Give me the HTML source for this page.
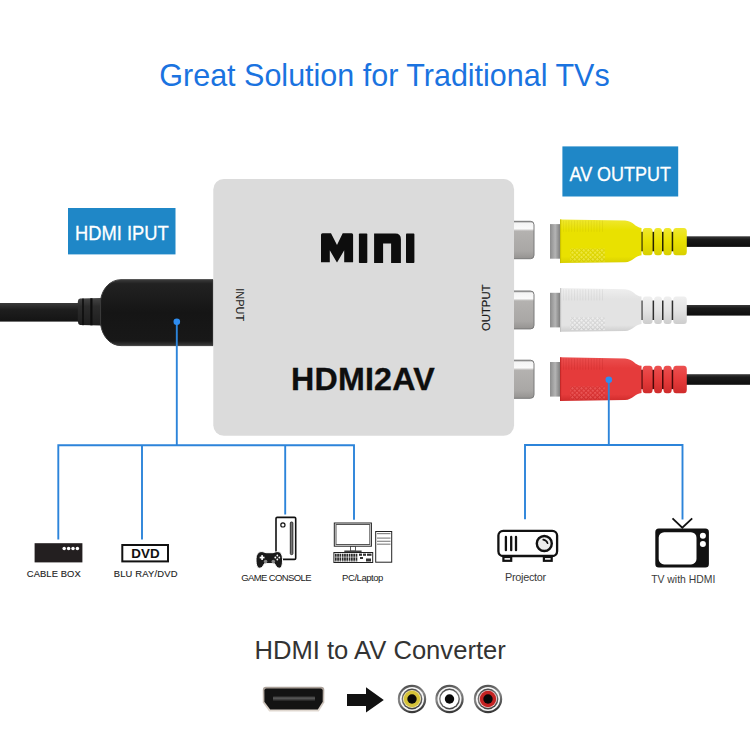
<!DOCTYPE html>
<html><head><meta charset="utf-8">
<style>
html,body{margin:0;padding:0;background:#fff;width:750px;height:750px;overflow:hidden}
svg{display:block}
text{font-family:"Liberation Sans",sans-serif}
</style></head>
<body>
<svg width="750" height="750" viewBox="0 0 750 750">
<defs>
  <linearGradient id="plugBody" x1="0" y1="0" x2="0" y2="1">
    <stop offset="0" stop-color="#3a3a3a"/>
    <stop offset="0.06" stop-color="#222"/>
    <stop offset="0.5" stop-color="#151515"/>
    <stop offset="0.93" stop-color="#181818"/>
    <stop offset="1" stop-color="#3a3a3a"/>
  </linearGradient>
  <linearGradient id="neck" x1="0" y1="0" x2="0" y2="1">
    <stop offset="0" stop-color="#444"/>
    <stop offset="0.3" stop-color="#2c2c2c"/>
    <stop offset="1" stop-color="#1e1e1e"/>
  </linearGradient>
  <linearGradient id="cable" x1="0" y1="0" x2="0" y2="1">
    <stop offset="0" stop-color="#3a3a3a"/>
    <stop offset="0.35" stop-color="#1e1e1e"/>
    <stop offset="1" stop-color="#141414"/>
  </linearGradient>
  <linearGradient id="jack" x1="0" y1="0" x2="0" y2="1">
    <stop offset="0" stop-color="#8a8a8a"/>
    <stop offset="0.05" stop-color="#f4f4f4"/>
    <stop offset="0.2" stop-color="#fafafa"/>
    <stop offset="0.26" stop-color="#b4b2b0"/>
    <stop offset="0.8" stop-color="#a9a7a5"/>
    <stop offset="1" stop-color="#959391"/>
  </linearGradient>
  <linearGradient id="ring" x1="0" y1="0" x2="1" y2="0">
    <stop offset="0" stop-color="#8c8c8c"/>
    <stop offset="0.5" stop-color="#b4b4b4"/>
    <stop offset="1" stop-color="#7a7a7a"/>
  </linearGradient>
  <pattern id="keys" width="2.3" height="4" patternUnits="userSpaceOnUse" x="335" y="553.6">
    <rect width="2.3" height="4" fill="#fff"/><rect x="0" y="0" width="1.7" height="3.4" fill="#2a2a2a"/>
  </pattern>
  <linearGradient id="hdmiBorder" x1="0" y1="0" x2="0" y2="1">
    <stop offset="0" stop-color="#a89e96"/><stop offset="0.5" stop-color="#c4bab2"/><stop offset="1" stop-color="#e2dad2"/>
  </linearGradient>
  <linearGradient id="rcaOuter" x1="0" y1="0" x2="0.3" y2="1">
    <stop offset="0" stop-color="#3e3e3e"/><stop offset="0.5" stop-color="#8a8a8a"/><stop offset="1" stop-color="#3a3a3a"/>
  </linearGradient>
  <linearGradient id="rcaInner" x1="0" y1="0" x2="0.3" y2="1">
    <stop offset="0" stop-color="#3a3a3a"/><stop offset="0.5" stop-color="#777"/><stop offset="1" stop-color="#444"/>
  </linearGradient>
</defs>

<!-- Title -->
<text x="159.3" y="86.3" font-size="30.5" fill="#1a73e0">Great Solution for Traditional TVs</text>

<!-- HDMI IPUT label -->
<rect x="68" y="208" width="107.5" height="46.4" fill="#1f87c7"/>
<text x="75" y="240" font-size="20.6" fill="#fff" stroke="#fff" stroke-width="0.3" transform="translate(75 0) scale(0.89 1) translate(-75 0)">HDMI IPUT</text>

<!-- AV OUTPUT label -->
<rect x="562.4" y="146.4" width="115.8" height="50.1" fill="#1f87c7"/>
<text x="569.5" y="181.2" font-size="20.3" fill="#fff" stroke="#fff" stroke-width="0.3" transform="translate(569.5 0) scale(0.885 1) translate(-569.5 0)">AV OUTPUT</text>

<!-- left HDMI cable -->
<rect x="0" y="303" width="82" height="18.6" fill="url(#cable)"/>
<!-- neck rings -->
<path d="M80,298.6 L101,298.1 L101,325.4 L80,325 Q77.8,324 77.8,321 L77.8,302 Q77.8,299 80,298.6 Z" fill="url(#neck)"/>
<rect x="82.2" y="298.6" width="1.6" height="26.6" fill="#0e0e0e"/>
<rect x="90.3" y="298.3" width="2.2" height="27" fill="#0e0e0e"/>
<!-- plug body -->
<path d="M213,279.7 L121,279.7 C110,279.7 102,289 100.6,300 L100.6,324 C102,336 110,345.6 121,345.6 L213,345.6 Z" fill="url(#plugBody)" stroke="#3c3c3c" stroke-width="1"/>

<!-- device -->
<rect x="213.3" y="179" width="300.8" height="256.8" rx="10.5" fill="#dbdbdb"/>

<!-- device jacks -->
<g id="jacks">
  <path d="M514,221.3 L530.5,221.3 Q534,221.3 534,224.8 L534,255.2 Q534,258.7 530.5,258.7 L514,258.7" fill="url(#jack)" stroke="#7a7a7a" stroke-width="1"/>
  <path d="M514,291 L530.5,291 Q534,291 534,294.5 L534,325.4 Q534,328.9 530.5,328.9 L514,328.9" fill="url(#jack)" stroke="#7a7a7a" stroke-width="1"/>
  <path d="M514,360.2 L530.5,360.2 Q534,360.2 534,363.7 L534,394.8 Q534,398.3 530.5,398.3 L514,398.3" fill="url(#jack)" stroke="#7a7a7a" stroke-width="1"/>
</g>

<!-- MINI logo -->
<g fill="#0d0d0d">
  <path d="M321,262.3 L321,234.8 Q321,233.3 322.5,233.3 L331,233.3 L337,245 L342.7,233.3 L351.6,233.3 Q353.1,233.3 353.1,234.8 L353.1,262.3 L344.2,262.3 L344.2,250.3 L337.2,262.3 L336.8,262.3 L329.8,250.3 L329.8,262.3 Z"/>
  <rect x="358.9" y="233.6" width="8.4" height="29.4" rx="0.8"/>
  <path d="M374.1,263 L374.1,233.6 L395.3,233.6 Q400.9,233.6 400.9,239.2 L400.9,263 L391.1,263 L391.1,243.4 L383.1,243.4 L383.1,263 Z"/>
  <rect x="406" y="233.6" width="8.4" height="29.4" rx="0.8"/>
</g>

<!-- HDMI2AV -->
<text x="291" y="390.2" font-size="32.2" letter-spacing="0.2" font-weight="700" fill="#0e0e0e" stroke="#0e0e0e" stroke-width="0.35">HDMI2AV</text>

<!-- INPUT / OUTPUT vertical -->
<text font-size="11" fill="#1a1a1a" stroke="#1a1a1a" stroke-width="0.05" transform="translate(235.7 288.2) rotate(90)">INPUT</text>
<text font-size="11.3" fill="#1a1a1a" stroke="#1a1a1a" stroke-width="0.2" transform="translate(489.6 331) rotate(-90)">OUTPUT</text>

<!-- RCA plugs -->
<g id="plugs">
<defs>
<linearGradient id="bodyY" x1="0" y1="0" x2="0" y2="1">
<stop offset="0" stop-color="#efe830"/><stop offset="0.25" stop-color="#e9e100"/><stop offset="0.85" stop-color="#e9e100"/><stop offset="1" stop-color="#d8cf00"/></linearGradient>
<linearGradient id="ribY" x1="0" y1="0" x2="0" y2="1">
<stop offset="0" stop-color="#efe830"/><stop offset="0.5" stop-color="#e9e100"/><stop offset="1" stop-color="#d8cf00"/></linearGradient>
<linearGradient id="edgeY" x1="0" y1="0" x2="1" y2="0"><stop offset="0" stop-color="#b9ae00"/><stop offset="1" stop-color="#e9e100" stop-opacity="0"/></linearGradient>
<pattern id="knurlY" width="3.2" height="3.2" patternUnits="userSpaceOnUse" patternTransform="rotate(45)">
<rect width="3.2" height="3.2" fill="#b9ae00" opacity="0.25"/><rect width="2.1" height="2.1" fill="#fbf56a" opacity="0.6"/></pattern>
<pattern id="ridgeY" width="2.8" height="12" patternUnits="userSpaceOnUse">
<rect width="1" height="12" fill="#b9ae00" opacity="0.22"/></pattern>
<linearGradient id="bodyW" x1="0" y1="0" x2="0" y2="1">
<stop offset="0" stop-color="#efefef"/><stop offset="0.25" stop-color="#e3e3e3"/><stop offset="0.85" stop-color="#e3e3e3"/><stop offset="1" stop-color="#cdcdcd"/></linearGradient>
<linearGradient id="ribW" x1="0" y1="0" x2="0" y2="1">
<stop offset="0" stop-color="#efefef"/><stop offset="0.5" stop-color="#e3e3e3"/><stop offset="1" stop-color="#cdcdcd"/></linearGradient>
<linearGradient id="edgeW" x1="0" y1="0" x2="1" y2="0"><stop offset="0" stop-color="#b0b0b0"/><stop offset="1" stop-color="#e3e3e3" stop-opacity="0"/></linearGradient>
<pattern id="knurlW" width="3.2" height="3.2" patternUnits="userSpaceOnUse" patternTransform="rotate(45)">
<rect width="3.2" height="3.2" fill="#b0b0b0" opacity="0.25"/><rect width="2.1" height="2.1" fill="#ffffff" opacity="0.6"/></pattern>
<pattern id="ridgeW" width="2.8" height="12" patternUnits="userSpaceOnUse">
<rect width="1" height="12" fill="#b0b0b0" opacity="0.22"/></pattern>
<linearGradient id="bodyR" x1="0" y1="0" x2="0" y2="1">
<stop offset="0" stop-color="#ec5050"/><stop offset="0.25" stop-color="#e53b3b"/><stop offset="0.85" stop-color="#e53b3b"/><stop offset="1" stop-color="#cf2b2b"/></linearGradient>
<linearGradient id="ribR" x1="0" y1="0" x2="0" y2="1">
<stop offset="0" stop-color="#ec5050"/><stop offset="0.5" stop-color="#e53b3b"/><stop offset="1" stop-color="#cf2b2b"/></linearGradient>
<linearGradient id="edgeR" x1="0" y1="0" x2="1" y2="0"><stop offset="0" stop-color="#b01c1c"/><stop offset="1" stop-color="#e53b3b" stop-opacity="0"/></linearGradient>
<pattern id="knurlR" width="3.2" height="3.2" patternUnits="userSpaceOnUse" patternTransform="rotate(45)">
<rect width="3.2" height="3.2" fill="#b01c1c" opacity="0.25"/><rect width="2.1" height="2.1" fill="#f56a6a" opacity="0.6"/></pattern>
<pattern id="ridgeR" width="2.8" height="12" patternUnits="userSpaceOnUse">
<rect width="1" height="12" fill="#b01c1c" opacity="0.22"/></pattern>
<linearGradient id="cableR" x1="0" y1="0" x2="0" y2="1"><stop offset="0" stop-color="#3a3a3a"/><stop offset="0.3" stop-color="#1a1a1a"/><stop offset="1" stop-color="#0e0e0e"/></linearGradient>
</defs>
<rect x="684" y="236.3" width="66" height="10.6" fill="url(#cableR)"/>
<rect x="550" y="224.10000000000002" width="10.5" height="34.6" fill="url(#ring)"/>
<rect x="639" y="231.8" width="47" height="19.5" fill="#262200"/>
<rect x="642.6" y="227.9" width="10.0" height="27.4" rx="3" ry="3.5" fill="url(#ribY)"/>
<rect x="654.1" y="227.9" width="7.899999999999977" height="27.4" rx="3" ry="3.5" fill="url(#ribY)"/>
<rect x="663.5" y="227.9" width="8.200000000000045" height="27.4" rx="3" ry="3.5" fill="url(#ribY)"/>
<rect x="673.2" y="227.9" width="13.599999999999909" height="27.4" rx="3" ry="3.5" fill="url(#ribY)"/>
<path d="M560,219.4 L625,220.60000000000002 C633,220.9 635,227.5 641.5,227.9 L641.5,255.20000000000002 C635,255.60000000000002 633,261.90000000000003 625,262.2 L560,263.1 Z" fill="url(#bodyY)"/>
<rect x="560" y="219.4" width="2.2" height="43.7" fill="url(#edgeY)"/>
<rect x="570.4" y="248.60000000000002" width="34.4" height="12.8" fill="url(#knurlY)"/>
<rect x="563" y="220.60000000000002" width="40" height="11.2" fill="url(#ridgeY)"/>
<rect x="684" y="305" width="66" height="10.6" fill="url(#cableR)"/>
<rect x="550" y="292.8" width="10.5" height="34.6" fill="url(#ring)"/>
<rect x="639" y="300.5" width="47" height="19.5" fill="#2e2e2e"/>
<rect x="642.6" y="296.6" width="10.0" height="27.4" rx="3" ry="3.5" fill="url(#ribW)"/>
<rect x="654.1" y="296.6" width="7.899999999999977" height="27.4" rx="3" ry="3.5" fill="url(#ribW)"/>
<rect x="663.5" y="296.6" width="8.200000000000045" height="27.4" rx="3" ry="3.5" fill="url(#ribW)"/>
<rect x="673.2" y="296.6" width="13.599999999999909" height="27.4" rx="3" ry="3.5" fill="url(#ribW)"/>
<path d="M560,288.1 L625,289.3 C633,289.6 635,296.2 641.5,296.6 L641.5,323.9 C635,324.3 633,330.6 625,330.9 L560,331.8 Z" fill="url(#bodyW)"/>
<rect x="560" y="288.1" width="2.2" height="43.7" fill="url(#edgeW)"/>
<rect x="570.4" y="317.3" width="34.4" height="12.8" fill="url(#knurlW)"/>
<rect x="563" y="289.3" width="40" height="11.2" fill="url(#ridgeW)"/>
<rect x="684" y="374.2" width="66" height="10.6" fill="url(#cableR)"/>
<rect x="550" y="362.0" width="10.5" height="34.6" fill="url(#ring)"/>
<rect x="639" y="369.7" width="47" height="19.5" fill="#4a0808"/>
<rect x="642.6" y="365.8" width="10.0" height="27.4" rx="3" ry="3.5" fill="url(#ribR)"/>
<rect x="654.1" y="365.8" width="7.899999999999977" height="27.4" rx="3" ry="3.5" fill="url(#ribR)"/>
<rect x="663.5" y="365.8" width="8.200000000000045" height="27.4" rx="3" ry="3.5" fill="url(#ribR)"/>
<rect x="673.2" y="365.8" width="13.599999999999909" height="27.4" rx="3" ry="3.5" fill="url(#ribR)"/>
<path d="M560,357.3 L625,358.5 C633,358.8 635,365.4 641.5,365.8 L641.5,393.09999999999997 C635,393.5 633,399.8 625,400.09999999999997 L560,401.0 Z" fill="url(#bodyR)"/>
<rect x="560" y="357.3" width="2.2" height="43.7" fill="url(#edgeR)"/>
<rect x="570.4" y="386.5" width="34.4" height="12.8" fill="url(#knurlR)"/>
<rect x="563" y="358.5" width="40" height="11.2" fill="url(#ridgeR)"/>
</g>
<!-- /plugs -->

<!-- blue tree lines -->
<g stroke="#2c84da" stroke-width="1.9" fill="none">
  <path d="M176.8,322 L176.8,445.2"/>
  <path d="M58.3,539.5 L58.3,445.3 L354,445.3 L354,519.7"/>
  <path d="M142,445.3 L142,539.5"/>
  <path d="M285.2,445.3 L285.2,514.5"/>
  <path d="M608.8,380 L608.8,445.2"/>
  <path d="M525,519.3 L525,445 L682.5,445 L682.5,519.5"/>
</g>
<circle cx="176.8" cy="321.8" r="3.3" fill="#2e8df0"/>
<circle cx="608.8" cy="379.8" r="3.3" fill="#2e8df0"/>

<!-- cable box -->
<rect x="34.6" y="543.2" width="47.8" height="19.2" fill="#231f20"/>
<g fill="#fff"><circle cx="64.2" cy="548.4" r="1.75"/><circle cx="68.6" cy="548.4" r="1.75"/><circle cx="73" cy="548.4" r="1.75"/><circle cx="77.4" cy="548.4" r="1.75"/></g>
<text x="26.8" y="577" font-size="9.4" letter-spacing="0.1" fill="#222" stroke="#222" stroke-width="0.12">CABLE BOX</text>

<!-- DVD -->
<rect x="122.3" y="545" width="45.7" height="16.4" fill="#fff" stroke="#111" stroke-width="2"/>
<text x="145.5" y="558.3" font-size="13.4" font-weight="700" fill="#111" text-anchor="middle">DVD</text>
<text x="113.8" y="576.6" font-size="9.4" letter-spacing="0.18" fill="#222" stroke="#222" stroke-width="0.12">BLU RAY/DVD</text>

<!-- game console -->
<rect x="276" y="517.4" width="19.7" height="42" rx="1.2" fill="#fff" stroke="#111" stroke-width="1.6"/>
<circle cx="282.9" cy="524.9" r="2.1" fill="#fff" stroke="#111" stroke-width="1.2"/>
<rect x="290.3" y="522" width="2.6" height="32.6" rx="1" fill="#777" stroke="#111" stroke-width="0.8"/>
<path d="M261,551.6 C263,551.4 264.5,552.5 266,552.7 L273,552.7 C274.5,552.5 276,551.4 278,551.6 C281.2,552 282.5,555 282.5,560 C282.5,565.5 281.6,568.2 279.2,568.2 C277,568.2 276,565.8 274.5,563.6 L264.5,563.6 C263,565.8 262,568.2 259.8,568.2 C257.4,568.2 256,565.5 256,560 C256,555 257.8,552 261,551.6 Z" fill="#1a1a1a" stroke="#fff" stroke-width="1"/>
<g fill="#fff"><rect x="259.7" y="556.7" width="4.8" height="1.7"/><rect x="261.25" y="555.15" width="1.7" height="4.8"/>
<circle cx="277.3" cy="555.5" r="0.9"/><circle cx="277.3" cy="559.5" r="0.9"/><circle cx="275.3" cy="557.5" r="0.9"/><circle cx="279.3" cy="557.5" r="0.9"/></g>
<circle cx="265.6" cy="561.6" r="1.8" fill="#8a8a8a"/><circle cx="273.3" cy="561.6" r="1.8" fill="#8a8a8a"/>
<text x="241.3" y="580.7" font-size="9.5" letter-spacing="-0.62" fill="#222">GAME CONSOLE</text>

<!-- PC -->
<rect x="334.3" y="523" width="37.1" height="23.2" fill="#fff" stroke="#222" stroke-width="1"/>
<rect x="336" y="524.5" width="33.8" height="20" fill="#fff" stroke="#555" stroke-width="1"/>
<rect x="350.5" y="546.5" width="5" height="4.5" fill="#fff" stroke="#333" stroke-width="0.8"/>
<rect x="344.3" y="550.5" width="17.3" height="1.6" fill="#444"/>
<rect x="333.9" y="552.5" width="38.8" height="10" fill="#fff" stroke="#222" stroke-width="1"/>
<rect x="335" y="553.6" width="23" height="8" fill="url(#keys)"/>
<g fill="#333"><rect x="359" y="553.6" width="3" height="2.2"/><rect x="363" y="553.6" width="3" height="2.2"/><rect x="367" y="553.6" width="4.5" height="2.2"/><rect x="366" y="558.5" width="5" height="3"/><rect x="360" y="557" width="3" height="2"/></g>
<rect x="375.7" y="531.5" width="16" height="30.7" fill="#fff" stroke="#222" stroke-width="1"/>
<g fill="#888"><rect x="377" y="533" width="13.5" height="1.2"/><rect x="377" y="537.5" width="13.5" height="1.2"/><rect x="377" y="540.7" width="13.5" height="1.2"/><rect x="377" y="543.6" width="13.5" height="1.2"/></g>
<text x="342.1" y="580.7" font-size="9.5" letter-spacing="-0.45" fill="#222">PC/Laptop</text>

<!-- projector -->
<rect x="498.4" y="530.8" width="58.7" height="25.2" rx="4.8" fill="#fff" stroke="#111" stroke-width="2.3"/>
<rect x="503.4" y="557" width="7.8" height="3.8" fill="#fff" stroke="#111" stroke-width="2.2"/>
<rect x="543.9" y="557" width="7.8" height="3.8" fill="#fff" stroke="#111" stroke-width="2.2"/>
<g stroke="#111" stroke-width="2.3" stroke-linecap="round"><path d="M505.9,537 L505.9,550.2"/><path d="M511.2,537 L511.2,550.2"/><path d="M516,537 L516,550.2"/></g>
<circle cx="544.3" cy="543.5" r="7.5" fill="#ededed" stroke="#111" stroke-width="2.4"/>
<path d="M543.2,539.6 Q546.6,540.3 547.6,543.2" stroke="#111" stroke-width="1.6" fill="none" stroke-linecap="round"/>
<text x="505" y="580.5" font-size="10.9" letter-spacing="-0.3" fill="#3a3a3a">Projector</text>

<!-- TV -->
<path d="M672.5,518.3 L682.3,527.7 L692.2,518.3" stroke="#111" stroke-width="1.8" fill="none"/>
<rect x="655.3" y="528.6" width="53.6" height="39" rx="3.5" fill="#111"/>
<rect x="658.7" y="532.2" width="37.8" height="32.2" rx="5.5" fill="#fff"/>
<circle cx="702.9" cy="535.8" r="3" fill="#fff"/>
<circle cx="702.9" cy="544" r="3" fill="#fff"/>
<text x="651.2" y="582.5" font-size="10.4" fill="#3a3a3a">TV with HDMI</text>

<!-- bottom -->
<text x="254.5" y="658.5" font-size="25.6" fill="#333">HDMI to AV Converter</text>

<!-- HDMI port icon -->
<path d="M266,686.8 L321,686.8 Q324.3,686.8 324.3,690 L324.3,702.5 L318.8,711.6 L269.2,711.6 L262.8,702.5 L262.8,690 Q262.8,686.8 266,686.8 Z" fill="url(#hdmiBorder)"/>
<path d="M266.5,688.4 L320.5,688.4 Q322.7,688.4 322.7,690.6 L322.7,701.8 L317.8,709.6 L270.2,709.6 L264.4,701.8 L264.4,690.6 Q264.4,688.4 266.5,688.4 Z" fill="#131313"/>
<rect x="273" y="696.6" width="42" height="4" rx="0.5" fill="#3e3e3e"/>
<rect x="273" y="697.6" width="42" height="1.2" fill="#5a5a5a"/>
<!-- arrow -->
<path d="M347,694 L366,694 L366,687.2 L383.8,700 L366,712.6 L366,706 L347,706 Z" fill="#111"/>
<!-- RCA icons -->
<g id="rcaicons">
  <g transform="translate(412 699)">
    <circle r="14.2" fill="url(#rcaOuter)"/><circle r="12" fill="#f6f6f6"/><circle r="10.4" fill="url(#rcaInner)"/><circle r="9" fill="#efe6b8"/><circle r="8.2" fill="#d5c238"/><circle r="4.7" fill="#080808"/>
  </g>
  <g transform="translate(449.5 699)">
    <circle r="14.2" fill="url(#rcaOuter)"/><circle r="12" fill="#f6f6f6"/><circle r="10.4" fill="url(#rcaInner)"/><circle r="9" fill="#ffffff"/><circle r="4.7" fill="#080808"/>
  </g>
  <g transform="translate(488 699)">
    <circle r="14.2" fill="url(#rcaOuter)"/><circle r="12" fill="#f6f6f6"/><circle r="10.4" fill="url(#rcaInner)"/><circle r="9" fill="#f2d6d6"/><circle r="8.2" fill="#c42222"/><circle r="4.7" fill="#080808"/>
  </g>
</g>

</svg>
</body></html>
